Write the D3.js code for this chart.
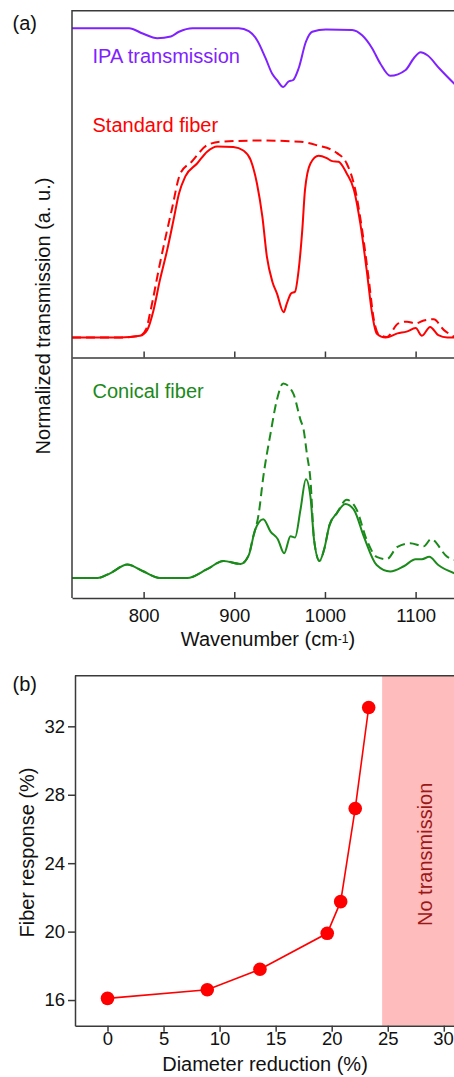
<!DOCTYPE html>
<html><head><meta charset="utf-8">
<script src="https://cdn.jsdelivr.net/npm/d3@7"></script>
<style>
html,body{margin:0;padding:0;background:#fff;}
svg{display:block;font-family:"Liberation Sans",Arial,sans-serif;}
</style></head><body>
<svg id="c" width="454" height="1077"></svg>
<script>
// ---------- Panel (a) data: [wavenumber (cm-1), normalized transmission (a.u.)] ----------
const ipaTransmission = [[721,0.969],[784,0.969],[799,0.960],[815,0.952],[830,0.955],[839,0.963],[854,0.969],[905,0.969],[916,0.964],[925,0.949],[934.5,0.918],[942,0.891],[947,0.881],[954,0.869],[959.5,0.878],[965,0.881],[971,0.901],[979,0.946],[986,0.963],[1001,0.967],[1030,0.966],[1041,0.957],[1052,0.935],[1061,0.909],[1072,0.888],[1089,0.898],[1098,0.918],[1105.5,0.928],[1113,0.923],[1126,0.901],[1143,0.874]];
const standardSolid = [[721,0.443],[774,0.443],[796,0.446],[804,0.456],[811,0.490],[818,0.541],[826,0.592],[833,0.643],[839,0.688],[846,0.717],[859,0.739],[870,0.759],[881,0.768],[899,0.767],[910,0.761],[918,0.745],[925,0.705],[931,0.648],[936,0.580],[942,0.538],[947,0.518],[954.4,0.486],[958,0.501],[962.6,0.518],[967,0.521],[971,0.558],[975,0.626],[978,0.694],[984,0.739],[993,0.752],[1002,0.748],[1008,0.743],[1015,0.742],[1024,0.722],[1032,0.694],[1039,0.637],[1046,0.558],[1052,0.484],[1057,0.450],[1067,0.443],[1080,0.450],[1090,0.453],[1100,0.459],[1107,0.446],[1116,0.461],[1125,0.447],[1135,0.443],[1143,0.443]];
const standardDashed = [[721,0.443],[774,0.443],[796,0.446],[803,0.458],[807,0.484],[818,0.569],[831,0.660],[840.5,0.722],[853,0.742],[870,0.770],[885,0.776],[929,0.778],[973,0.776],[991,0.770],[1013,0.757],[1024,0.739],[1033.5,0.694],[1041,0.626],[1048,0.546],[1054,0.473],[1059,0.449],[1068,0.444],[1081,0.467],[1090.5,0.470],[1100,0.467],[1109,0.472],[1120,0.474],[1131,0.456],[1143,0.444]];
const conicalSolid = [[721,0.034],[749,0.034],[763,0.042],[782,0.057],[800,0.045],[818,0.034],[848,0.034],[870,0.049],[888,0.063],[907,0.058],[916,0.073],[923,0.116],[932,0.134],[940,0.113],[948,0.100],[955,0.076],[962,0.105],[967,0.103],[973,0.150],[979,0.202],[984,0.172],[988,0.099],[994,0.063],[999,0.082],[1005,0.124],[1013,0.144],[1022.5,0.160],[1032,0.150],[1043,0.104],[1057,0.056],[1072,0.045],[1087,0.054],[1100,0.066],[1107,0.066],[1115,0.070],[1125,0.056],[1143,0.042]];
const conicalDashed = [[721,0.034],[749,0.034],[763,0.042],[782,0.057],[800,0.045],[818,0.034],[848,0.034],[870,0.049],[888,0.063],[907,0.058],[916,0.073],[920,0.099],[927,0.144],[932,0.206],[940,0.280],[947,0.337],[954,0.365],[965,0.348],[973,0.303],[976.5,0.286],[980,0.246],[984,0.201],[988,0.099],[994,0.063],[999,0.082],[1005,0.124],[1013,0.144],[1024,0.167],[1035,0.150],[1046,0.099],[1057,0.070],[1068,0.066],[1080,0.087],[1094,0.093],[1109,0.088],[1117,0.100],[1135,0.070],[1143,0.065]];
const waveTicks = [800, 900, 1000, 1100];
const seriesLabels = ["IPA transmission", "Standard fiber", "Conical fiber"];

// ---------- Panel (b) data ----------
const diameterReduction = [0, 8.9, 13.6, 19.6, 20.8, 22.1, 23.3];
const fiberResponse = [16.1, 16.6, 17.8, 19.9, 21.75, 27.2, 33.1];
const reductionTicks = [0, 5, 10, 15, 20, 25, 30];
const responseTicks = [16, 20, 24, 28, 32];
const noTransmissionFrom = 24.5;

// ---------- styles ----------
const AX = "#3a3a3a";
const PURPLE = "#7f22ff", RED = "#ff0000", GREEN = "#1a8a1a";
const TICKFONT = "18.5px", LABELFONT = "20px";

const svg = d3.select("#c");

// ================= Panel (a) =================
const xA = d3.scaleLinear().domain([721, 1143]).range([72, 454.6]);
const yA = d3.scaleLinear().domain([0, 1]).range([598, 10]);
const splitU = 0.409;

svg.append("clipPath").attr("id", "clipA").append("rect")
  .attr("x", 72).attr("y", 10).attr("width", 454 - 72).attr("height", 588);

const lineA = d3.line().x(d => xA(d[0])).y(d => yA(d[1])).curve(d3.curveMonotoneX);
const gA = svg.append("g").attr("clip-path", "url(#clipA)");
const curves = [
  {data: standardDashed, color: RED, dash: "9,5"},
  {data: conicalDashed, color: GREEN, dash: "9,5"},
  {data: ipaTransmission, color: PURPLE, dash: null},
  {data: standardSolid, color: RED, dash: null},
  {data: conicalSolid, color: GREEN, dash: null}
];
curves.forEach(c => {
  gA.append("path").datum(c.data).attr("d", lineA)
    .attr("fill", "none").attr("stroke", c.color).attr("stroke-width", 2)
    .attr("stroke-dasharray", c.dash).attr("stroke-linejoin", "round");
});

// frame
svg.append("line").attr("x1", 72).attr("x2", 72).attr("y1", yA(1)).attr("y2", yA(0))
  .attr("stroke", AX).attr("stroke-width", 1.5);
svg.append("line").attr("x1", 72).attr("x2", 454).attr("y1", yA(1) + 0.7).attr("y2", yA(1) + 0.7)
  .attr("stroke", AX).attr("stroke-width", 1.5);

const axA = svg.append("g").attr("transform", `translate(0,${yA(0)})`)
  .call(d3.axisBottom(xA).tickValues(waveTicks).tickFormat(d3.format("d"))
    .tickSizeInner(-6).tickSizeOuter(0).tickPadding(10.6));
const axSplit = svg.append("g").attr("transform", `translate(0,${yA(splitU)})`)
  .call(d3.axisBottom(xA).tickValues(waveTicks).tickSizeInner(-6).tickSizeOuter(0).tickFormat(""));
[axA, axSplit].forEach(g => {
  g.select(".domain").attr("stroke", AX).attr("stroke-width", 1.5);
  g.selectAll(".tick line").attr("stroke", AX).attr("stroke-width", 1.5);
  g.selectAll(".tick text").attr("fill", "#111").style("font-size", TICKFONT)
    .style("font-family", '"Liberation Sans",Arial,sans-serif');
});

// labels (a)
svg.append("text").attr("x", 12.5).attr("y", 29.6).style("font-size", LABELFONT).attr("fill", "#111").text("(a)");
svg.append("text").attr("x", 92.5).attr("y", 63.3).style("font-size", LABELFONT).attr("fill", PURPLE).text(seriesLabels[0]);
svg.append("text").attr("x", 92.5).attr("y", 132.3).style("font-size", LABELFONT).attr("fill", RED).text(seriesLabels[1]);
svg.append("text").attr("x", 92.5).attr("y", 398).style("font-size", LABELFONT).attr("fill", GREEN).text(seriesLabels[2]);
svg.append("text").attr("transform", "translate(50,316) rotate(-90)").attr("text-anchor", "middle")
  .style("font-size", LABELFONT).attr("fill", "#111").text("Normalized transmission (a. u.)");
const xt = svg.append("text").attr("x", 268).attr("y", 646).attr("text-anchor", "middle")
  .style("font-size", LABELFONT).attr("fill", "#111");
xt.append("tspan").text("Wavenumber (cm");
xt.append("tspan").attr("dy", -3).style("font-size", "12px").text("-1");
xt.append("tspan").attr("dy", 3).text(")");

// ================= Panel (b) =================
const xB = d3.scaleLinear().domain([-2.9, 31]).range([75, 455]);
const yB = d3.scaleLinear().domain([14.5, 35]).range([1025.7, 675]);

svg.append("rect").attr("x", xB(noTransmissionFrom)).attr("y", yB(35))
  .attr("width", xB(31) - xB(noTransmissionFrom)).attr("height", yB(14.5) - yB(35))
  .attr("fill", "#ffbcbc");
svg.append("text").attr("transform", `translate(431.7,${(yB(35) + yB(14.5)) / 2 + 4}) rotate(-90)`)
  .attr("text-anchor", "middle").style("font-size", LABELFONT).attr("fill", "#9a1818").text("No transmission");

const pts = diameterReduction.map((d, i) => [d, fiberResponse[i]]);
svg.append("path").datum(pts)
  .attr("d", d3.line().x(d => xB(d[0])).y(d => yB(d[1])))
  .attr("fill", "none").attr("stroke", RED).attr("stroke-width", 1.6);
svg.append("g").selectAll("circle").data(pts).join("circle")
  .attr("cx", d => xB(d[0])).attr("cy", d => yB(d[1])).attr("r", 6.8).attr("fill", RED);

const axBx = svg.append("g").attr("transform", `translate(0,${yB(14.5)})`)
  .call(d3.axisBottom(xB).tickValues(reductionTicks).tickSizeInner(6).tickSizeOuter(0).tickPadding(0.5));
const axBy = svg.append("g").attr("transform", `translate(${xB(-2.9)},0)`)
  .call(d3.axisLeft(yB).tickValues(responseTicks).tickSizeInner(7).tickSizeOuter(0).tickPadding(3));
[axBx, axBy].forEach(g => {
  g.select(".domain").attr("stroke", AX).attr("stroke-width", 1.5);
  g.selectAll(".tick line").attr("stroke", AX).attr("stroke-width", 1.5);
  g.selectAll(".tick text").attr("fill", "#111").style("font-size", TICKFONT)
    .style("font-family", '"Liberation Sans",Arial,sans-serif');
});
// keep the last x tick label inside the picture
axBx.selectAll(".tick text").filter(d => d === 30).attr("text-anchor", "end").attr("x", 0).attr("dx", 0)
  .attr("transform", "translate(9.6,0)");
svg.append("line").attr("x1", 75).attr("x2", 454).attr("y1", yB(35) + 0.7).attr("y2", yB(35) + 0.7)
  .attr("stroke", AX).attr("stroke-width", 1.5);

svg.append("text").attr("x", 12.5).attr("y", 691.3).style("font-size", LABELFONT).attr("fill", "#111").text("(b)");
svg.append("text").attr("transform", "translate(33.5,852.5) rotate(-90)").attr("text-anchor", "middle")
  .style("font-size", LABELFONT).attr("fill", "#111").text("Fiber response (%)");
svg.append("text").attr("x", 265).attr("y", 1070.7).attr("text-anchor", "middle")
  .style("font-size", LABELFONT).attr("fill", "#111").text("Diameter reduction (%)");
</script>
</body></html>
